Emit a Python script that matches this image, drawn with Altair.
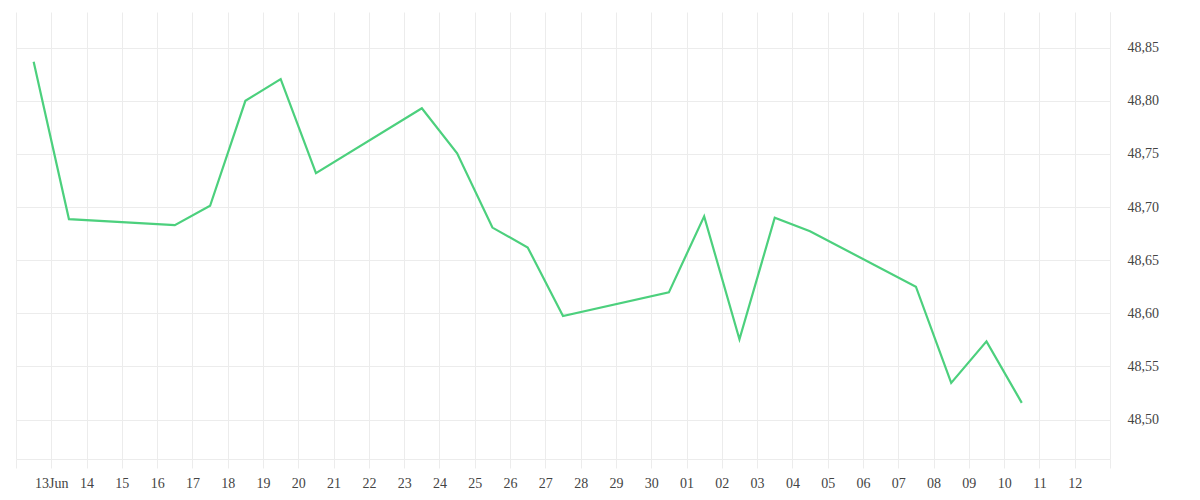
import altair as alt
import pandas as pd

dates = [
    "2014-06-12T12:00:00", "2014-06-13T12:00:00", "2014-06-16T12:00:00",
    "2014-06-17T12:00:00", "2014-06-18T12:00:00", "2014-06-19T12:00:00",
    "2014-06-20T12:00:00", "2014-06-23T12:00:00", "2014-06-24T12:00:00",
    "2014-06-25T12:00:00", "2014-06-26T12:00:00", "2014-06-27T12:00:00",
    "2014-06-30T12:00:00", "2014-07-01T12:00:00", "2014-07-02T12:00:00",
    "2014-07-03T12:00:00", "2014-07-04T12:00:00", "2014-07-07T12:00:00",
    "2014-07-08T12:00:00", "2014-07-09T12:00:00", "2014-07-10T12:00:00",
]
values = [
    48.8368, 48.6887, 48.6830, 48.7012, 48.8000, 48.8205, 48.7320,
    48.7930, 48.7506, 48.6807, 48.6620, 48.5975, 48.6197, 48.6913,
    48.5756, 48.6900, 48.6772, 48.6251, 48.5345, 48.5736, 48.5157,
]
y_ticks = [48.50, 48.55, 48.60, 48.65, 48.70, 48.75, 48.80, 48.85]
x_tick_days = [(6, d) for d in range(12, 31)] + [(7, d) for d in range(1, 14)]

df = pd.DataFrame({"date": dates, "value": values})

grid_color = "#ececec"
label_color = "#444444"
font = "Liberation Serif"

x_values = [alt.DateTime(year=2014, month=m, date=d, hours=0) for m, d in x_tick_days]

x_label_expr = (
    "timeFormat(datum.value,'%m-%d') == '06-12' || timeFormat(datum.value,'%m-%d') == '07-13' ? '' : "
    "(timeFormat(datum.value,'%m-%d') == '06-13' ? '13Jun' : timeFormat(datum.value,'%d'))"
)

chart = (
    alt.Chart(df)
    .mark_line(color="#4cd07d", strokeWidth=2.2)
    .encode(
        x=alt.X(
            "date:T",
            scale=alt.Scale(
                domain=[
                    alt.DateTime(year=2014, month=6, date=12, hours=0),
                    alt.DateTime(year=2014, month=7, date=13, hours=0),
                ]
            ),
            axis=alt.Axis(
                values=x_values,
                labelExpr=x_label_expr,
                title=None,
                grid=True,
                gridColor=grid_color,
                tickColor=grid_color,
                tickSize=9,
                domainColor=grid_color,
                labelPadding=8,
                labelFont=font,
                labelFontSize=14,
                labelColor=label_color,
                labelOverlap=False,
                labelFlush=False,
                labelBound=False,
            ),
        ),
        y=alt.Y(
            "value:Q",
            scale=alt.Scale(domain=[48.4629, 48.8836], nice=False, zero=False),
            axis=alt.Axis(
                orient="right",
                values=y_ticks,
                labelExpr="replace(format(datum.value, '.2f'), '.', ',')",
                title=None,
                grid=True,
                gridColor=grid_color,
                ticks=False,
                domainColor=grid_color,
                labelPadding=17,
                labelFont=font,
                labelFontSize=14,
                labelColor=label_color,
                labelOverlap=False,
            ),
        ),
    )
    .properties(
        width=1094,
        height=447,
        autosize=alt.AutoSizeParams(type="none"),
        padding={"left": 8, "top": 4, "right": 80, "bottom": 40},
    )
    .configure_view(strokeWidth=0)
)

chart.save("out.html", embed_options={"renderer": "svg", "actions": False})
